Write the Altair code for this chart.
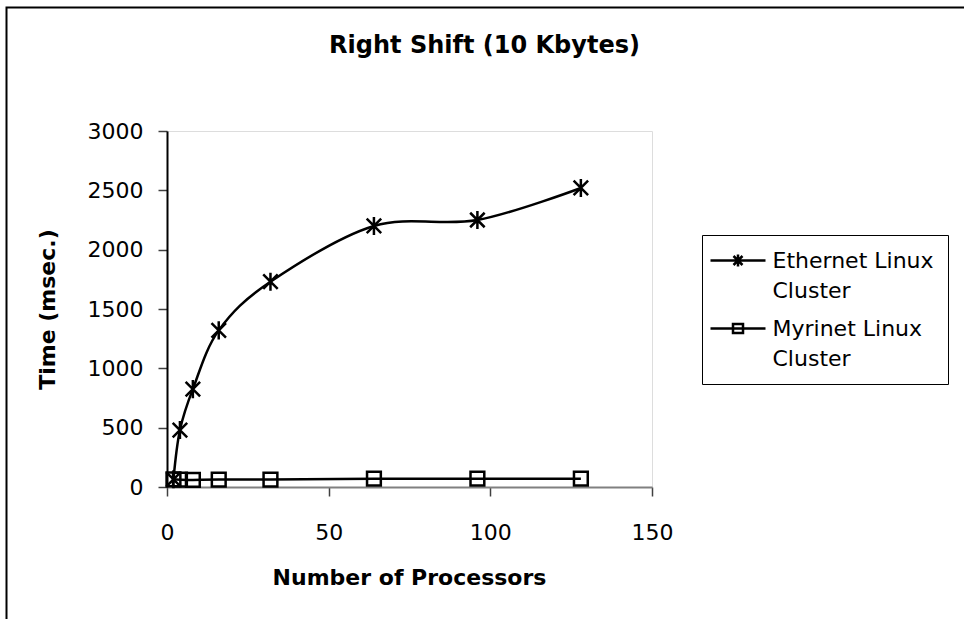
import altair as alt
import pandas as pd

processors = [2, 4, 8, 16, 32, 64, 96, 128]
ethernet = [65, 480, 825, 1320, 1730, 2200, 2250, 2520]
myrinet = [65, 62, 60, 63, 63, 70, 70, 70]
series_names = ["Ethernet Linux Cluster", "Myrinet Linux Cluster"]

rows = []
for p, v in zip(processors, ethernet):
    rows.append({"procs": p, "time": v, "series": series_names[0]})
for p, v in zip(processors, myrinet):
    rows.append({"procs": p, "time": v, "series": series_names[1]})
df = pd.DataFrame(rows)

FONT = "DejaVu Sans"
STAR = "M-1,-1L1,1M-1,1L1,-1M0,-1.25V1.25"
LEG_STAR = "M-2.75,0H2.75M-0.45,-0.45L0.45,0.45M-0.45,0.45L0.45,-0.45M0,-0.6V0.6"
LEG_SQUARE = "M-2.75,0H2.75M-0.5,-0.45H0.5V0.45H-0.5Z"

x_enc = alt.X("procs:Q", scale=alt.Scale(domain=[0, 150], nice=False),
              axis=alt.Axis(values=[0, 50, 100, 150], title="Number of Processors",
                            grid=False, domainColor="#808080", domainWidth=2,
                            tickColor="#404040", tickWidth=1.5, tickSize=9,
                            labelFont=FONT, labelFontSize=22, labelColor="black",
                            labelPadding=26, labelFlush=False,
                            titleFont=FONT, titleFontSize=22, titleFontWeight="bold",
                            titleColor="black", titleX=242, titleY=90,
                            titleBaseline="middle"))
y_enc = alt.Y("time:Q", scale=alt.Scale(domain=[0, 3000], nice=False),
              axis=alt.Axis(values=[0, 500, 1000, 1500, 2000, 2500, 3000],
                            format="d",
                            title="Time (msec.)", grid=False,
                            domainColor="black", domainWidth=2,
                            tickColor="#404040", tickWidth=1.5, tickSize=9,
                            labelFont=FONT, labelFontSize=22, labelColor="black",
                            labelPadding=15, labelFlush=False,
                            titleFont=FONT, titleFontSize=22, titleFontWeight="bold",
                            titleColor="black", titleX=-120, titleY=178,
                            titleBaseline="middle", titleAngle=-90))

base = alt.Chart(df)

lines = base.mark_line(interpolate="cardinal", color="black", strokeWidth=2.5).encode(
    x=x_enc, y=y_enc, detail="series:N")

eth_pts = base.transform_filter(alt.datum.series == series_names[0]).mark_point(
    shape=STAR, size=210, filled=False, color="black", strokeWidth=2.5, opacity=1
).encode(x="procs:Q", y="time:Q")

myr_pts = base.transform_filter(alt.datum.series == series_names[1]).mark_point(
    shape="square", size=190, filled=False, color="black", strokeWidth=2.5, opacity=1
).encode(x="procs:Q", y="time:Q")

legend_layer = base.mark_point(filled=False, color="black", opacity=0).encode(
    x="procs:Q", y="time:Q",
    shape=alt.Shape("series:N",
                    scale=alt.Scale(domain=series_names, range=[LEG_STAR, LEG_SQUARE]),
                    legend=alt.Legend(
                        title=None, orient="none", legendX=535, legendY=104,
                        symbolSize=400, symbolStrokeWidth=2.5,
                        symbolStrokeColor="black", symbolFillColor="transparent",
                        symbolOpacity=1, symbolOffset=10.5,
                        labelExpr="[slice(datum.label, 0, lastindexof(datum.label, ' ')), slice(datum.label, lastindexof(datum.label, ' ') + 1)]",
                        labelFont=FONT, labelFontSize=22, labelColor="black",
                        labelLimit=400, labelOffset=23,
                        strokeColor="black", fillColor="white", padding=14,
                        rowPadding=15)))

frame = alt.Chart(pd.DataFrame({"a": [0]})).mark_rect(
    fill=None, stroke="black", strokeWidth=2).encode(
    x=alt.value(-160.5), y=alt.value(-123.5), x2=alt.value(1000), y2=alt.value(700))

chart = alt.layer(frame, lines, eth_pts, myr_pts, legend_layer).properties(
    width=485, height=356,
    title=alt.Title("Right Shift (10 Kbytes)", font=FONT, fontSize=24,
                    fontWeight="bold", color="black", anchor="middle", dx=75, dy=55),
    autosize=alt.AutoSizeParams(type="none"),
    padding={"left": 167, "top": 131, "right": 312, "bottom": 132},
).configure_view(stroke="#808080", strokeWidth=2).configure(
    background="white",
    style={"guide-label": {"lineHeight": 30}},
)

chart.save("out.html", embed_options={"renderer": "svg", "actions": False})
